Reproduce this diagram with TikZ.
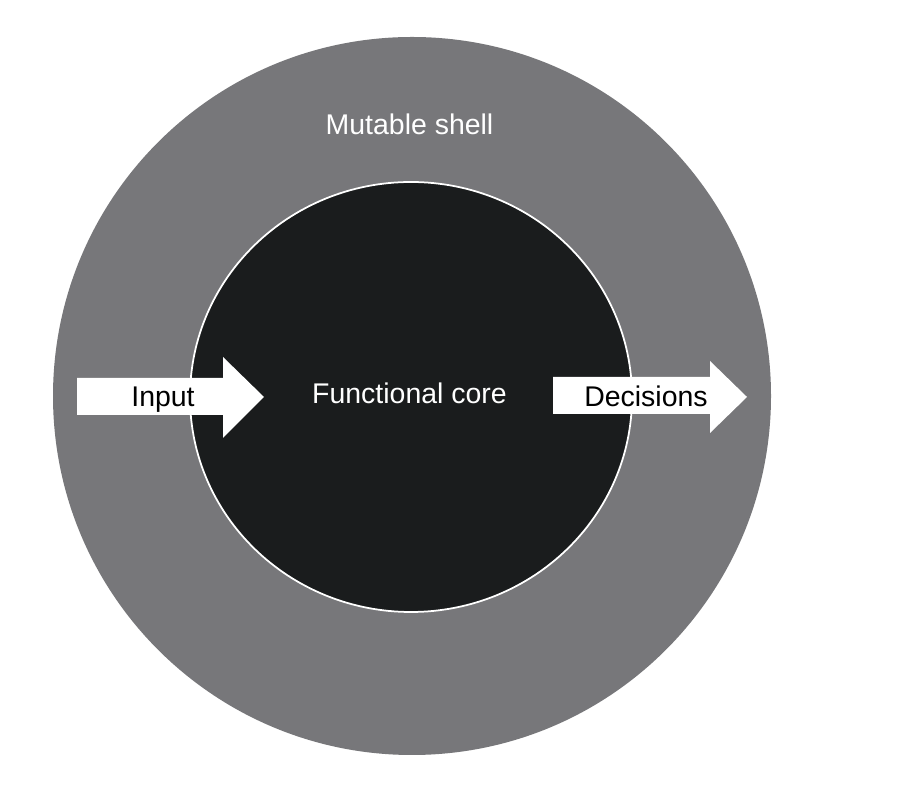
\documentclass[tikz,border=0pt]{standalone}
\usepackage{fontspec}
\setmainfont{Liberation Sans}
\definecolor{shellgrey}{HTML}{77777A}
\definecolor{coreblack}{HTML}{1A1C1D}
\newcommand{\txtsize}{\fontsize{8.1}{10}\selectfont}

\begin{document}
\begin{tikzpicture}[txt/.style={anchor=base,font=\txtsize,inner sep=0pt}]
   \useasboundingbox (0,0) rectangle (9.01,7.97);
   \fill[shellgrey] (4.12,4.01) circle (3.59);
   \filldraw[fill=coreblack,draw=white,line width=0.5pt] (4.11,4.00) ellipse (2.21 and 2.15);
   \fill[white] (0.77,4.19) -- (2.23,4.19) -- (2.23,4.40) -- (2.64,4.00) --
                (2.23,3.59) -- (2.23,3.82) -- (0.77,3.82) -- cycle;
   \fill[white] (5.53,4.20) -- (7.10,4.20) -- (7.10,4.36) -- (7.47,4.00) --
                (7.10,3.64) -- (7.10,3.83) -- (5.53,3.83) -- cycle;
   \node[txt,white] (shell) at (4.095,6.62) {Mutable shell};
   \node[txt,white] (core) at (4.095,3.93) {Functional core};
   \node[txt] (input) at (1.63,3.90) {Input};
   \node[txt] (decisions) at (6.46,3.90) {Decisions};
\end{tikzpicture}
\end{document}
